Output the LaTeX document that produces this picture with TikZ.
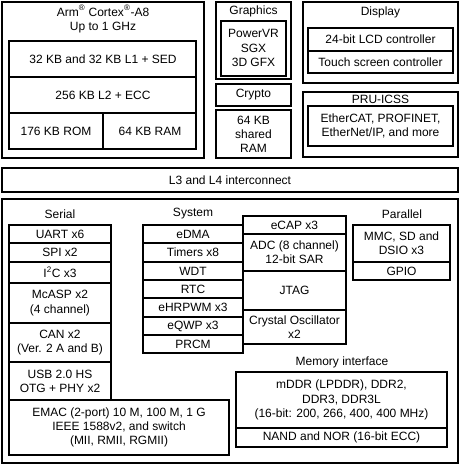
\documentclass[tikz,border=0pt]{standalone}
\usepackage{fontspec}
\setmainfont{Liberation Sans}
\tikzset{
  blk/.style={draw=black, line width=1.3pt},
  lbl/.style={align=center, inner sep=0pt, font=\fontsize{9}{10.6}\selectfont}
}
\begin{document}
\begin{tikzpicture}[x=0.75pt,y=0.75pt,yscale=-1,xscale=1]
            %set diagram left start at 0, and has height of 464
            \useasboundingbox (0,0) rectangle (460,464);

            %Shape: Rectangle [Arm core]
            \draw [blk] (2,2) rectangle (204,158);
            \draw [blk] (9,41) rectangle (196,149);
            \draw [blk] (9,77) -- (196,77);
            \draw [blk] (9,113) -- (196,113);
            \draw [blk] (103,113) -- (103,149);
            % Text Node
            \node [lbl] (arm) at (103,19) {Arm\textsuperscript{®} Cortex\textsuperscript{®}-A8\\Up to 1 GHz};
            \node [lbl] (lone) at (103,59) {32 KB and 32 KB L1 + SED};
            \node [lbl] (ltwo) at (103,95) {256 KB L2 + ECC};
            \node [lbl] (rom) at (56,131) {176 KB ROM};
            \node [lbl] (ram) at (150,131) {64 KB RAM};

            %Shape: Rectangle [Graphics]
            \draw [blk] (216,2) rectangle (291,79);
            \draw [blk] (221,21) rectangle (286,76);
            % Text Node
            \node [lbl] (gfx) at (253.5,11) {Graphics};
            \node [lbl] (sgx) at (253.5,48) {PowerVR\\SGX\\3D GFX};

            %Shape: Rectangle [Crypto]
            \draw [blk] (216,84) rectangle (291,106);
            \node [lbl] (crypto) at (253.5,95) {Crypto};

            %Shape: Rectangle [Shared RAM]
            \draw [blk] (216,110) rectangle (291,158);
            \node [lbl] (shram) at (253.5,134) {64 KB\\shared\\RAM};

            %Shape: Rectangle [Display]
            \draw [blk] (303,2) rectangle (458,83);
            \draw [blk] (308,28) rectangle (453,73);
            \draw [blk] (308,51) -- (453,51);
            % Text Node
            \node [lbl] (disp) at (380.5,12) {Display};
            \node [lbl] (lcd) at (380.5,39.5) {24-bit LCD controller};
            \node [lbl] (touch) at (380.5,62) {Touch screen controller};

            %Shape: Rectangle [PRU-ICSS]
            \draw [blk] (303,92) rectangle (458,157);
            \draw [blk] (308,106) rectangle (453,146);
            % Text Node
            \node [lbl] (pru) at (380.5,99) {PRU-ICSS};
            \node [lbl] (ether) at (380.5,126) {EtherCAT, PROFINET,\\EtherNet/IP, and more};

            %Shape: Rectangle [Interconnect]
            \draw [blk] (2,168) rectangle (458,192);
            \node [lbl] (inter) at (230,180) {L3 and L4 interconnect};

            %Shape: Rectangle [Peripherals]
            \draw [blk] (2,199) rectangle (458,463);
            % Text Node
            \node [lbl] (serial) at (60,214) {Serial};
            \node [lbl] (system) at (193,214) {System};
            \node [lbl] (parallel) at (402,214) {Parallel};
            \node [lbl] (meminf) at (342,362) {Memory interface};

            %Shape: Rectangle [Serial column]
            \draw [blk] (9,225) rectangle (111,400);
            \foreach \y in {243,262,283,323,362}
              \draw [blk] (9,\y) -- (111,\y);
            \node [lbl] (uart) at (60,234) {UART x6};
            \node [lbl] (spi) at (60,252.5) {SPI x2};
            \node [lbl] (itc) at (60,272.5) {I\textsuperscript{2}C x3};
            \node [lbl] (mcasp) at (60,303) {McASP x2\\(4 channel)};
            \node [lbl] (can) at (60,342.5) {CAN x2\\(Ver. 2 A and B)};
            \node [lbl] (usb) at (60,381) {USB 2.0 HS\\OTG + PHY x2};

            %Shape: Rectangle [EMAC]
            \draw [blk] (9,400) rectangle (229,455);
            \node [lbl] (emac) at (119,427.5) {EMAC (2-port) 10 M, 100 M, 1 G\\IEEE 1588v2, and switch\\(MII, RMII, RGMII)};

            %Shape: Rectangle [System column]
            \draw [blk] (143,225) rectangle (243,353);
            \foreach \y in {243,262,280,298,317,335}
              \draw [blk] (143,\y) -- (243,\y);
            \node [lbl] (edma) at (193,234) {eDMA};
            \node [lbl] (timers) at (193,252.5) {Timers x8};
            \node [lbl] (wdt) at (193,271) {WDT};
            \node [lbl] (rtc) at (193,289) {RTC};
            \node [lbl] (ehrpwm) at (193,307.5) {eHRPWM x3};
            \node [lbl] (eqwp) at (193,326) {eQWP x3};
            \node [lbl] (prcm) at (193,344) {PRCM};

            %Shape: Rectangle [eCAP column]
            \draw [blk] (243,216) rectangle (346,344);
            \foreach \y in {234,271,310}
              \draw [blk] (243,\y) -- (346,\y);
            \node [lbl] (ecap) at (294.5,225) {eCAP x3};
            \node [lbl] (adc) at (294.5,252.5) {ADC (8 channel)\\12-bit SAR};
            \node [lbl] (jtag) at (294.5,290) {JTAG};
            \node [lbl] (xtal) at (294.5,327) {Crystal Oscillator\\x2};

            %Shape: Rectangle [Parallel]
            \draw [blk] (353,225) rectangle (450,280);
            \draw [blk] (353,262) -- (450,262);
            \node [lbl] (mmc) at (401.5,243.5) {MMC, SD and\\DSIO x3};
            \node [lbl] (gpio) at (401.5,271) {GPIO};

            %Shape: Rectangle [Memory]
            \draw [blk] (236,372) rectangle (447,447);
            \draw [blk] (236,428) -- (447,428);
            \node [lbl] (ddr) at (341.5,400) {mDDR (LPDDR), DDR2,\\DDR3, DDR3L\\(16-bit: 200, 266, 400, 400 MHz)};
            \node [lbl] (nand) at (341.5,437.5) {NAND and NOR (16-bit ECC)};

\end{tikzpicture}
\end{document}
